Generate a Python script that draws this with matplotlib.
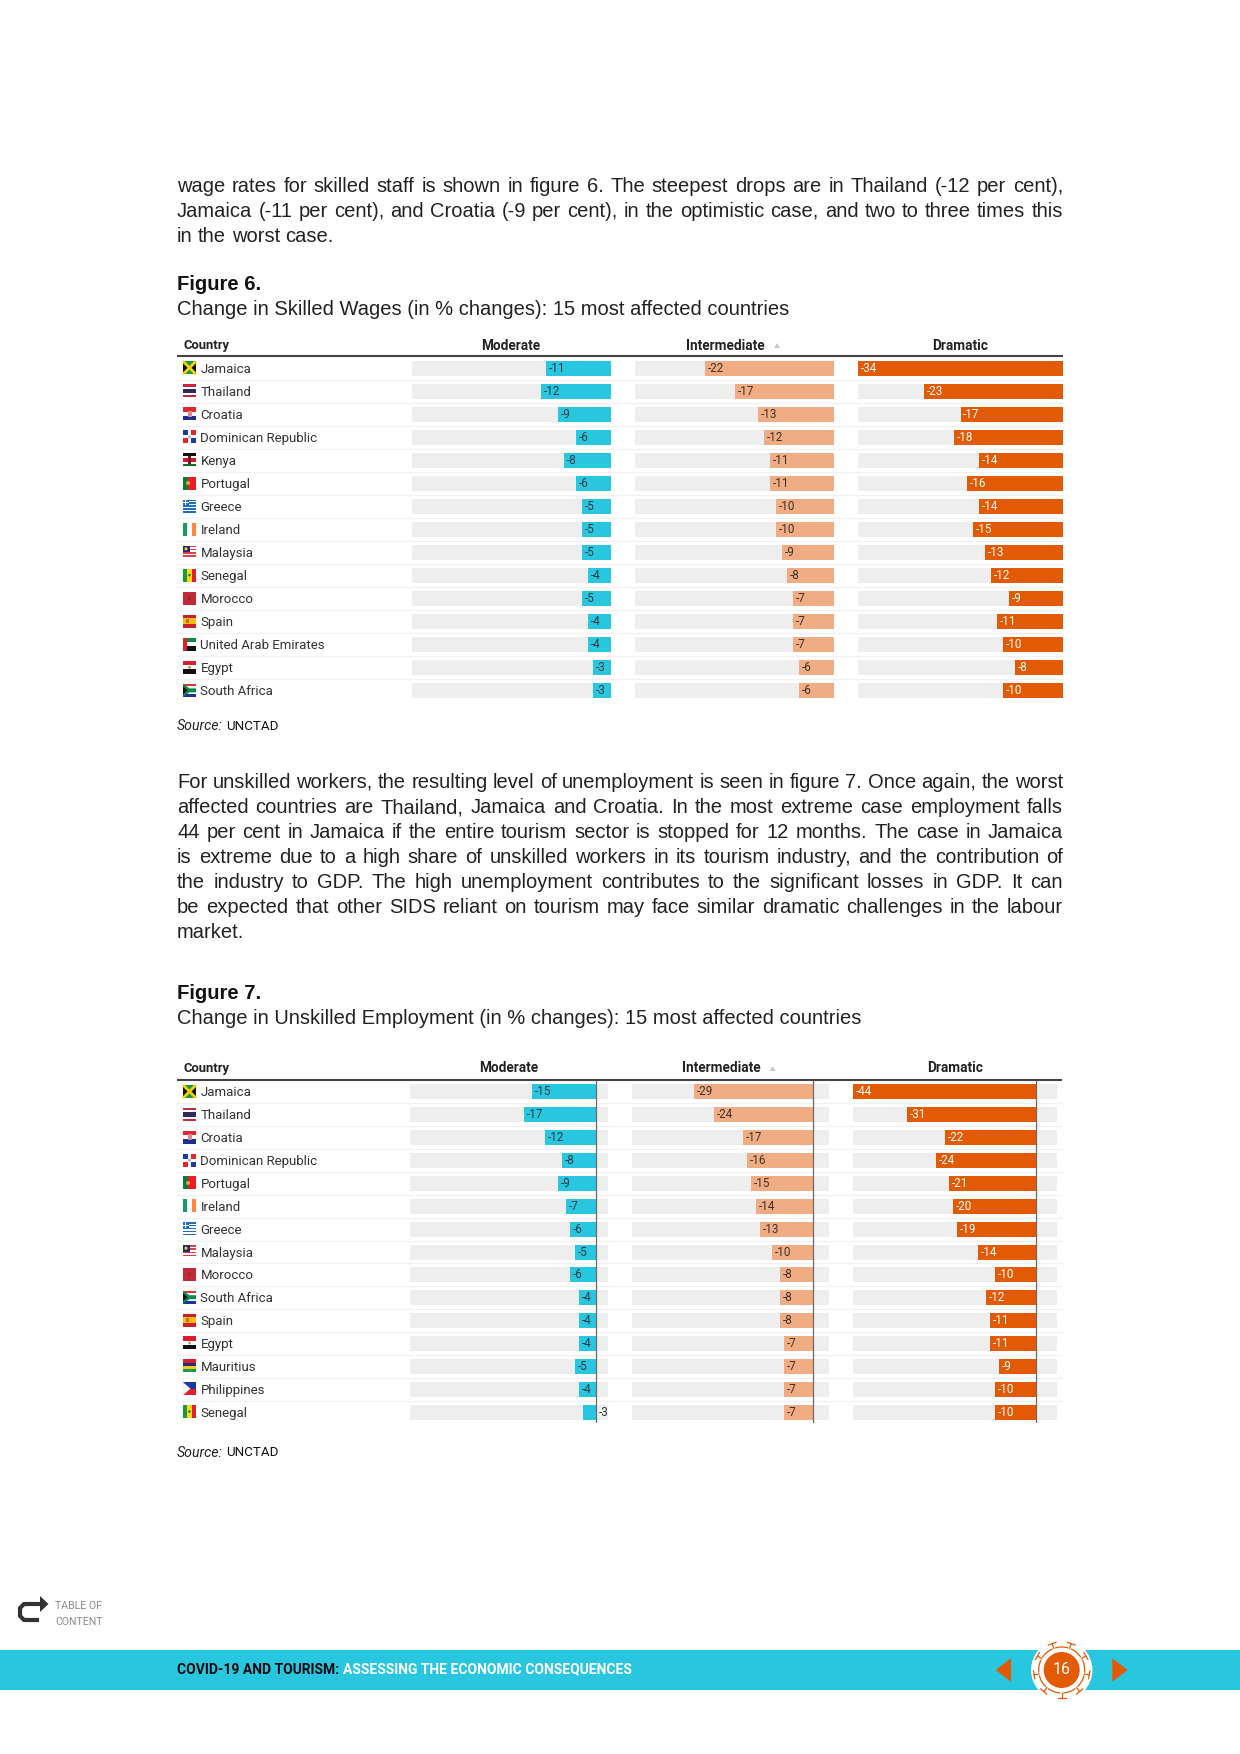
import numpy as np
import matplotlib
matplotlib.use('Agg')
import matplotlib.pyplot as plt
from matplotlib.patches import Rectangle, Polygon, Circle

W, H = 1240, 1754

para1 = ["wage rates for skilled staff is shown in figure 6. The steepest drops are in Thailand (-12 per cent),",
         "Jamaica (-11 per cent), and Croatia (-9 per cent), in the optimistic case, and two to three times this",
         "in the worst case."]
para2 = ["For unskilled workers, the resulting level of unemployment is seen in figure 7. Once again, the worst",
         "affected countries are Thailand, Jamaica and Croatia. In the most extreme case employment falls",
         "44 per cent in Jamaica if the entire tourism sector is stopped for 12 months. The case in Jamaica",
         "is extreme due to a high share of unskilled workers in its tourism industry, and the contribution of",
         "the industry to GDP. The high unemployment contributes to the significant losses in GDP. It can",
         "be expected that other SIDS reliant on tourism may face similar dramatic challenges in the labour",
         "market."]

columns = ["Moderate", "Intermediate", "Dramatic"]

fig6_countries = ["Jamaica", "Thailand", "Croatia", "Dominican Republic", "Kenya", "Portugal", "Greece", "Ireland",
                  "Malaysia", "Senegal", "Morocco", "Spain", "United Arab Emirates", "Egypt", "South Africa"]
fig6_moderate = [-11, -12, -9, -6, -8, -6, -5, -5, -5, -4, -5, -4, -4, -3, -3]
fig6_intermediate = [-22, -17, -13, -12, -11, -11, -10, -10, -9, -8, -7, -7, -7, -6, -6]
fig6_dramatic = [-34, -23, -17, -18, -14, -16, -14, -15, -13, -12, -9, -11, -10, -8, -10]

fig7_countries = ["Jamaica", "Thailand", "Croatia", "Dominican Republic", "Portugal", "Ireland", "Greece", "Malaysia",
                  "Morocco", "South Africa", "Spain", "Egypt", "Mauritius", "Philippines", "Senegal"]
fig7_moderate = [-15, -17, -12, -8, -9, -7, -6, -5, -6, -4, -4, -4, -5, -4, -3]
fig7_intermediate = [-29, -24, -17, -16, -15, -14, -13, -10, -8, -8, -8, -7, -7, -7, -7]
fig7_dramatic = [-44, -31, -22, -24, -21, -20, -19, -14, -10, -12, -11, -11, -9, -10, -10]

CYAN, PEACH, ORANGE = '#29c6e0', '#f0ad84', '#e35a05'
BG = '#eeeeee'
colors = [CYAN, PEACH, ORANGE]
label_colors = ['#2a3a40', '#3a3028', '#ffffff']

# stripes of the little flags: (direction, colours)
flags = {
    "Jamaica": ('h', ['#159a45']),
    "Thailand": ('h', ['#c8283c', '#ffffff', '#2d2a5a', '#2d2a5a', '#ffffff', '#c8283c']),
    "Croatia": ('h', ['#e0282e', '#ffffff', '#1c2f8f']),
    "Dominican Republic": ('h', ['#ffffff']),
    "Kenya": ('h', ['#111111', '#ffffff', '#c8202c', '#c8202c', '#ffffff', '#176b2c']),
    "Portugal": ('v', ['#0b7a3b', '#0b7a3b', '#ee1c25', '#ee1c25', '#ee1c25']),
    "Greece": ('h', ['#1f6fc0', '#ffffff'] * 4 + ['#1f6fc0']),
    "Ireland": ('v', ['#169b62', '#ffffff', '#ff883e']),
    "Malaysia": ('h', ['#d8414a', '#ffffff'] * 4),
    "Senegal": ('v', ['#1a9a40', '#fcdc10', '#e0202c']),
    "Morocco": ('h', ['#bf2c38']),
    "Spain": ('h', ['#c8202c', '#f5bc14', '#f5bc14', '#c8202c']),
    "United Arab Emirates": ('h', ['#0a8a45', '#ffffff', '#111111']),
    "Egypt": ('h', ['#d8202c', '#ffffff', '#111111']),
    "South Africa": ('h', ['#e0352b', '#ffffff', '#0a8a50', '#ffffff', '#1f2f9f']),
    "Mauritius": ('h', ['#d8202c', '#2a2a80', '#f5cc14', '#109a50']),
    "Philippines": ('h', ['#1c3a9f', '#e0202c']),
}

fig = plt.figure(figsize=(W / 100, H / 100), dpi=100, facecolor='white')
page = fig.add_axes([0, 0, 1, 1])
page.set_xlim(0, W)
page.set_ylim(H, 0)
page.axis('off')
renderer = fig.canvas.get_renderer()

BODY = 'Liberation Sans'
BODY_SIZE = 14.5


def justified(lines, y0, step, left=177, right=1063):
    for k, line in enumerate(lines):
        y = y0 + k * step
        words = line.split(' ')
        texts = [page.text(left, y, w, family=BODY, fontsize=BODY_SIZE, color='#222222', va='baseline') for w in words]
        widths = [t.get_window_extent(renderer).width for t in texts]
        if k == len(lines) - 1:
            space = 5.5
        else:
            space = (right - left - sum(widths)) / (len(words) - 1)
        x = left
        for t, wd in zip(texts, widths):
            t.set_x(x)
            x += wd + space


def draw_flag(name, x, yc):
    s = 13
    y = yc - s / 2
    direction, cols = flags.get(name, ('h', ['#ffffff']))
    n = len(cols)
    for i, c in enumerate(cols):
        if direction == 'h':
            page.add_patch(Rectangle((x, y + i * s / n), s, s / n, fc=c, lw=0))
        else:
            page.add_patch(Rectangle((x + i * s / n, y), s / n, s, fc=c, lw=0))
    if name == "Jamaica":
        page.add_patch(Polygon([(x, y), (x + s / 2, yc), (x, y + s)], fc='#111111', lw=0))
        page.add_patch(Polygon([(x + s, y), (x + s / 2, yc), (x + s, y + s)], fc='#111111', lw=0))
        page.plot([x, x + s], [y, y + s], color='#f5d010', lw=2, solid_capstyle='butt')
        page.plot([x, x + s], [y + s, y], color='#f5d010', lw=2, solid_capstyle='butt')
    elif name == "Croatia":
        page.add_patch(Rectangle((x + 4.5, y + 3.5), 4, 6, fc='#d88a90', lw=0))
    elif name == "Dominican Republic":
        for dx, dy, c in [(0, 0, '#1c3a9f'), (1, 0, '#e0282e'), (0, 1, '#e0282e'), (1, 1, '#1c3a9f')]:
            page.add_patch(Rectangle((x + dx * 8, y + dy * 8), 5, 5, fc=c, lw=0))
        page.add_patch(Circle((x + s / 2, yc), 1.6, fc='#b0b8c8', lw=0))
    elif name == "Kenya":
        page.add_patch(Rectangle((x + 5, y + 2.5), 3, 8, fc='#7a1a1a', lw=0))
    elif name == "Portugal":
        page.add_patch(Circle((x + 5, yc), 2, fc='#e8a040', lw=0))
    elif name == "Greece":
        page.add_patch(Rectangle((x, y), 5.5, 5.8, fc='#1f6fc0', lw=0))
        page.add_patch(Rectangle((x + 2.2, y), 1.1, 5.8, fc='white', lw=0))
        page.add_patch(Rectangle((x, y + 2.4), 5.5, 1.1, fc='white', lw=0))
    elif name == "Malaysia":
        page.add_patch(Rectangle((x, y), 7, 6.5, fc='#232a70', lw=0))
        page.add_patch(Circle((x + 3, y + 3.2), 1.6, fc='#f5cc14', lw=0))
    elif name == "Senegal":
        page.add_patch(Circle((x + s / 2, yc), 1.3, fc='#1a7a30', lw=0))
    elif name == "Morocco":
        page.add_patch(Circle((x + s / 2, yc), 2, fc='#a02a30', lw=0))
    elif name == "Spain":
        page.add_patch(Rectangle((x + 3, yc - 2), 3, 4, fc='#c07030', lw=0))
    elif name == "United Arab Emirates":
        page.add_patch(Rectangle((x, y), 4, s, fc='#e0202c', lw=0))
    elif name == "Egypt":
        page.add_patch(Circle((x + s / 2, yc), 1.5, fc='#c0a060', lw=0))
    elif name == "South Africa":
        page.add_patch(Polygon([(x, y), (x + 6.5, yc - 2), (x + s, yc - 2), (x + s, yc + 2), (x + 6.5, yc + 2), (x, y + s)],
                               fc='#0a8a50', lw=0))
        page.add_patch(Polygon([(x, y + 2.5), (x + 4.5, yc), (x, y + s - 2.5)], fc='#111111', lw=0))
    elif name == "Philippines":
        page.add_patch(Polygon([(x, y), (x + 7.5, yc), (x, y + s)], fc='#f4f4f4', lw=0))


def draw_table(countries, series, y0, step, header_y, boxes, head_x, tri_x, flag_x, zero_line, line_right):
    n = len(countries)
    page.plot([177, line_right], [y0 - step / 2 - 1, y0 - step / 2 - 1], color='#444444', lw=1.5, solid_capstyle='butt')
    page.text(flag_x, header_y, "Country", family='Roboto', weight='bold', fontsize=9.4, color='#222222', va='center')
    for i in range(1, n):
        yy = y0 + (i - 0.5) * step
        page.plot([177, line_right], [yy, yy], color='#f2f2f2', lw=1)
    for i, name in enumerate(countries):
        draw_flag(name, flag_x, y0 + i * step - 0.5)
        page.text(200.5, y0 + i * step + 1, name, family='Roboto', fontsize=9.55, color='#333333', va='center')

    dom_left = min(min(s) for s in series)
    for j, vals in enumerate(series):
        left, zero, right = boxes[j]
        scale = (zero - left) / -dom_left
        dom_right = (right - zero) / scale
        top = y0 - step / 2
        ax = fig.add_axes([left / W, 1 - (top + n * step) / H, (right - left) / W, n * step / H])
        ax.patch.set_alpha(0)
        ax.set_xlim(dom_left, dom_right)
        ax.set_ylim(n - 0.5, -0.5)
        ax.axis('off')
        rows = np.arange(n)
        ax.barh(rows, [dom_right - dom_left] * n, left=dom_left, height=15 / step, color=BG, lw=0)
        ax.barh(rows, vals, height=15 / step, color=colors[j], lw=0)
        if zero_line:
            ax.axvline(0, color='#6a6a6a', lw=0.9)
        for i, v in enumerate(vals):
            if -v * scale < 15:
                ax.annotate(str(v), (0, i), xytext=(2, 0), textcoords='offset points', family='Roboto',
                            fontsize=8.4, color='#333333', va='center', ha='left')
            else:
                ax.annotate(str(v), (v, i), xytext=(2, 0), textcoords='offset points', family='Roboto',
                            fontsize=8.4, color=label_colors[j], va='center', ha='left')
        page.text(head_x[j], header_y, columns[j], family='Roboto', weight='bold', fontsize=9.8, color='#222222',
                  va='center', ha='center')
    page.add_patch(Polygon([(tri_x - 3, header_y + 2.5), (tri_x + 3, header_y + 2.5), (tri_x, header_y - 2.5)],
                           fc='#c8c8c8', lw=0))


def source_line(y):
    t = page.text(177, y, "Source:", family='Roboto', style='italic', fontsize=10.2, color='#222222', va='center')
    x = t.get_window_extent(renderer).x1 + 3
    page.text(x, y, "UNCTAD", family='Roboto', fontsize=9.6, color='#111111', va='center')


justified(para1, 192, 24.9)
page.text(177, 290, "Figure 6.", family=BODY, weight='bold', fontsize=14.6, color='#111111', va='baseline')
page.text(177, 315, "Change in Skilled Wages (in % changes): 15 most affected countries", family=BODY, fontsize=BODY_SIZE,
          color='#222222', va='baseline')
draw_table(fig6_countries, [fig6_moderate, fig6_intermediate, fig6_dramatic], 368.3, 23.04, 345.5,
           [(411.5, 611, 611), (635, 834.3, 834.3), (858, 1063, 1063)],
           [511, 725.6, 960], 777, 183, False, 1063)
source_line(726)

justified(para2, 788, 25.0)
page.text(177, 999, "Figure 7.", family=BODY, weight='bold', fontsize=14.6, color='#111111', va='baseline')
page.text(177, 1024, "Change in Unskilled Employment (in % changes): 15 most affected countries", family=BODY, fontsize=BODY_SIZE,
          color='#222222', va='baseline')
draw_table(fig7_countries, [fig7_moderate, fig7_intermediate, fig7_dramatic], 1092, 22.86, 1068.5,
           [(410, 595.7, 607.7), (631.7, 813.3, 829.3), (853, 1036.3, 1056.7)],
           [508.7, 721, 954.7], 772.6, 183, True, 1062)
source_line(1453)

# footer
page.add_patch(Rectangle((0, 1649.5), W, 40.5, fc=CYAN, lw=0))
t = page.text(177, 1669.5, "COVID-19 AND TOURISM:", family='Roboto', weight='bold', fontsize=10, color='#0a0a0a', va='center')
page.text(t.get_window_extent(renderer).x1 + 4, 1669.5, "ASSESSING THE ECONOMIC CONSEQUENCES", family='Roboto', weight='bold',
          fontsize=10, color='white', va='center')
page.add_patch(Polygon([(1011, 1658.3), (1011, 1681.7), (995.7, 1670)], fc=ORANGE, lw=0))
page.add_patch(Polygon([(1112.3, 1658.3), (1112.3, 1681.7), (1127.7, 1670)], fc=ORANGE, lw=0))
cx, cy = 1061.7, 1670
page.add_patch(Circle((cx, cy), 30.7, fc='white', lw=0))
page.add_patch(Circle((cx, cy), 18, fc=ORANGE, lw=0))
for ang in range(30, 390, 40):
    a = np.radians(ang)
    ux, uy = np.cos(a), -np.sin(a)
    page.plot([cx + 23 * ux, cx + 28 * ux], [cy + 23 * uy, cy + 28 * uy], color=ORANGE, lw=0.9)
    page.plot([cx + 28 * ux - 4 * uy, cx + 28 * ux + 4 * uy], [cy + 28 * uy + 4 * ux, cy + 28 * uy - 4 * ux],
              color=ORANGE, lw=0.9)
    arc = np.radians(np.linspace(ang + 5, ang + 35, 12))
    page.plot(cx + 23 * np.cos(arc), cy - 23 * np.sin(arc), color=ORANGE, lw=0.9)
page.text(cx, cy, "16", family='Roboto', fontsize=11.5, color='white', va='center', ha='center')

# table of content arrow
page.plot([37, 24, 20, 20, 24, 41], [1620, 1620, 1616, 1608, 1604, 1604], color='#333333', lw=3, solid_joinstyle='round')
page.add_patch(Polygon([(40, 1596), (48.5, 1604), (40, 1612)], fc='#333333', lw=0))
page.text(55, 1606, "TABLE OF", family='Roboto', fontsize=7.6, color='#8a8a8a', va='center')
page.text(55, 1622, "CONTENT", family='Roboto', fontsize=7.6, color='#8a8a8a', va='center')

fig.savefig('out.png', dpi=100, facecolor='white')
